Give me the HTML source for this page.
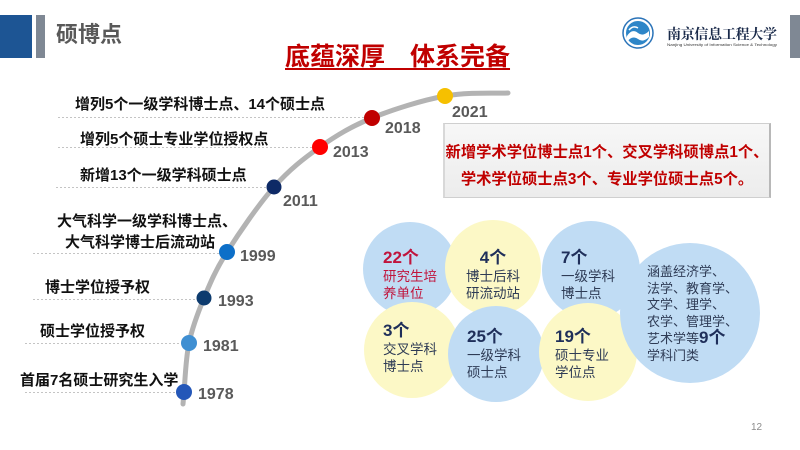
<!DOCTYPE html>
<html><head><meta charset="utf-8">
<style>
*{margin:0;padding:0;box-sizing:border-box}
body{width:800px;height:450px;background:#fff;position:relative;overflow:hidden;font-family:"Liberation Sans","Noto Sans CJK SC",sans-serif}
.a{position:absolute;white-space:nowrap;line-height:1}
.lbl{font-size:15px;font-weight:bold;color:#111}
.yr{font-size:16px;font-weight:bold;color:#595959}
.ct{font-size:13.5px;color:#2e3b55;line-height:17px}
.ct b{font-size:17px;color:#1f2f5a;display:block;line-height:20px}
</style></head><body>
<!-- header -->
<div class="a" style="left:0;top:15px;width:32px;height:43px;background:#1d5594"></div>
<div class="a" style="left:36px;top:15px;width:9px;height:43px;background:#7f8894"></div>
<div class="a" style="left:56px;top:24px;font-size:22px;font-weight:bold;color:#595959">硕博点</div>
<div class="a" style="left:790px;top:15px;width:10px;height:43px;background:#7f8894"></div>
<svg class="a" style="left:0;top:0" width="800" height="450">
  <!-- logo -->
  <circle cx="638" cy="33" r="15" fill="#fff" stroke="#2a73b8" stroke-width="1.5"/>
  <circle cx="638" cy="33" r="12" fill="#2e86c8"/>
  <path d="M627 36 q5 -8 11 -3 q5 4 11 -2 v6 q-6 6 -11 2 q-6 -4 -11 3z" fill="#fff"/>
  <path d="M629 30 q4 -5 9 -2" stroke="#fff" stroke-width="1.5" fill="none"/>
  <text x="667" y="39" font-family="Noto Serif CJK SC, serif" font-weight="bold" font-size="14" fill="#1a2a4a" textLength="110">南京信息工程大学</text>
  <text x="667" y="46" font-family="Liberation Sans, sans-serif" font-size="4" fill="#333" textLength="110" lengthAdjust="spacingAndGlyphs">Nanjing University of Information Science &amp; Technology</text>
  <!-- dotted lines -->
  <g stroke="#c4c4c4" stroke-width="1" stroke-dasharray="2,2">
    <line x1="58" y1="117.5" x2="368" y2="117.5"/>
    <line x1="58" y1="147.5" x2="315" y2="147.5"/>
    <line x1="56" y1="187.5" x2="268" y2="187.5"/>
    <line x1="33" y1="253.5" x2="222" y2="253.5"/>
    <line x1="33" y1="299.5" x2="198" y2="299.5"/>
    <line x1="25" y1="343.5" x2="183" y2="343.5"/>
    <line x1="25" y1="392.5" x2="177" y2="392.5"/>
  </g>
  <!-- curve -->
  <path d="M183 404 L184 392 C185 382.2 185.7 358.7 189 343 C192.3 327.3 197.7 313.2 204 298 C210.3 282.8 215.3 270.5 227 252 C238.7 233.5 258.5 204.5 274 187 C289.5 169.5 303.7 158.5 320 147 C336.3 135.5 351.2 126.5 372 118 C392.8 109.5 422.3 100.2 445 96 C467.7 91.8 497.5 93.5 508 93" stroke="#b3b3b3" stroke-width="5" fill="none" stroke-linecap="round"/>
  <!-- dots -->
  <circle cx="445" cy="96" r="8" fill="#f6c000"/>
  <circle cx="372" cy="118" r="8" fill="#c00000"/>
  <circle cx="320" cy="147" r="8" fill="#ff0000"/>
  <circle cx="274" cy="187" r="7.5" fill="#0e2a66"/>
  <circle cx="227" cy="252" r="8" fill="#0d6fc8"/>
  <circle cx="204" cy="298" r="7.5" fill="#0d3b6e"/>
  <circle cx="189" cy="343" r="8" fill="#3f8fd2"/>
  <circle cx="184" cy="392" r="8" fill="#2457b8"/>
  <!-- bubbles -->
  <circle cx="410" cy="269" r="47" fill="#c0dcf4"/>
  <circle cx="493" cy="268" r="48" fill="#fcf8c6"/>
  <circle cx="591" cy="270" r="49" fill="#c0dcf4"/>
  <circle cx="412" cy="350" r="48" fill="#fcf8c6"/>
  <circle cx="496" cy="354" r="48" fill="#c0dcf4"/>
  <circle cx="588" cy="352" r="49" fill="#fcf8c6"/>
  <circle cx="690" cy="313" r="70" fill="#c0dcf4"/>
</svg>
<!-- red title -->
<div class="a" style="left:285px;top:45px;font-size:25px;font-weight:bold;color:#c00000;text-decoration:underline;text-underline-offset:3px">底蕴深厚　体系完备</div>
<!-- labels -->
<div class="a lbl" style="left:75px;top:97px">增列5个一级学科博士点、14个硕士点</div>
<div class="a lbl" style="left:80px;top:132px">增列5个硕士专业学位授权点</div>
<div class="a lbl" style="left:80px;top:168px">新增13个一级学科硕士点</div>
<div class="a lbl" style="left:57px;top:214px">大气科学一级学科博士点、</div>
<div class="a lbl" style="left:65px;top:235px">大气科学博士后流动站</div>
<div class="a lbl" style="left:45px;top:280px">博士学位授予权</div>
<div class="a lbl" style="left:40px;top:324px">硕士学位授予权</div>
<div class="a lbl" style="left:20px;top:373px">首届7名硕士研究生入学</div>
<!-- years -->
<div class="a yr" style="left:452px;top:105px">2021</div>
<div class="a yr" style="left:385px;top:121px">2018</div>
<div class="a yr" style="left:333px;top:145px">2013</div>
<div class="a yr" style="left:283px;top:194px">2011</div>
<div class="a yr" style="left:240px;top:249px">1999</div>
<div class="a yr" style="left:218px;top:294px">1993</div>
<div class="a yr" style="left:203px;top:339px">1981</div>
<div class="a yr" style="left:198px;top:387px">1978</div>
<!-- red box -->
<div class="a" style="left:443px;top:123px;width:328px;height:75px;background:linear-gradient(#f7f7f7,#ececec);border:1px solid #cfcfcf;border-right:2px solid #b8b8b8;border-left:2px solid #d8d8d8"></div>
<div class="a" style="left:443px;top:145px;width:328px;text-align:center;font-size:15.3px;font-weight:bold;color:#c00000">新增学术学位博士点1个、交叉学科硕博点1个、</div>
<div class="a" style="left:443px;top:172px;width:328px;text-align:center;font-size:15.3px;font-weight:bold;color:#c00000">学术学位硕士点3个、专业学位硕士点5个。</div>
<!-- bubble texts -->
<div class="a ct" style="left:383px;top:248px;color:#c0143c"><b style="color:#c0143c">22个</b>研究生培<br>养单位</div>
<div class="a ct" style="left:466px;top:248px;text-align:center;width:54px"><b>4个</b>博士后科<br>研流动站</div>
<div class="a ct" style="left:561px;top:248px"><b>7个</b>一级学科<br>博士点</div>
<div class="a ct" style="left:383px;top:321px"><b>3个</b>交叉学科<br>博士点</div>
<div class="a ct" style="left:467px;top:327px"><b>25个</b>一级学科<br>硕士点</div>
<div class="a ct" style="left:555px;top:327px"><b>19个</b>硕士专业<br>学位点</div>
<div class="a" style="left:647px;top:264px;font-size:13px;color:#2e3b55;line-height:16.5px">涵盖经济学、<br>法学、教育学、<br>文学、理学、<br>农学、管理学、<br>艺术学等<b style="font-size:17px;color:#1f2f5a">9个</b><br>学科门类</div>
<div class="a" style="left:751px;top:423px;font-size:10px;color:#8c8c8c">12</div>
</body></html>
